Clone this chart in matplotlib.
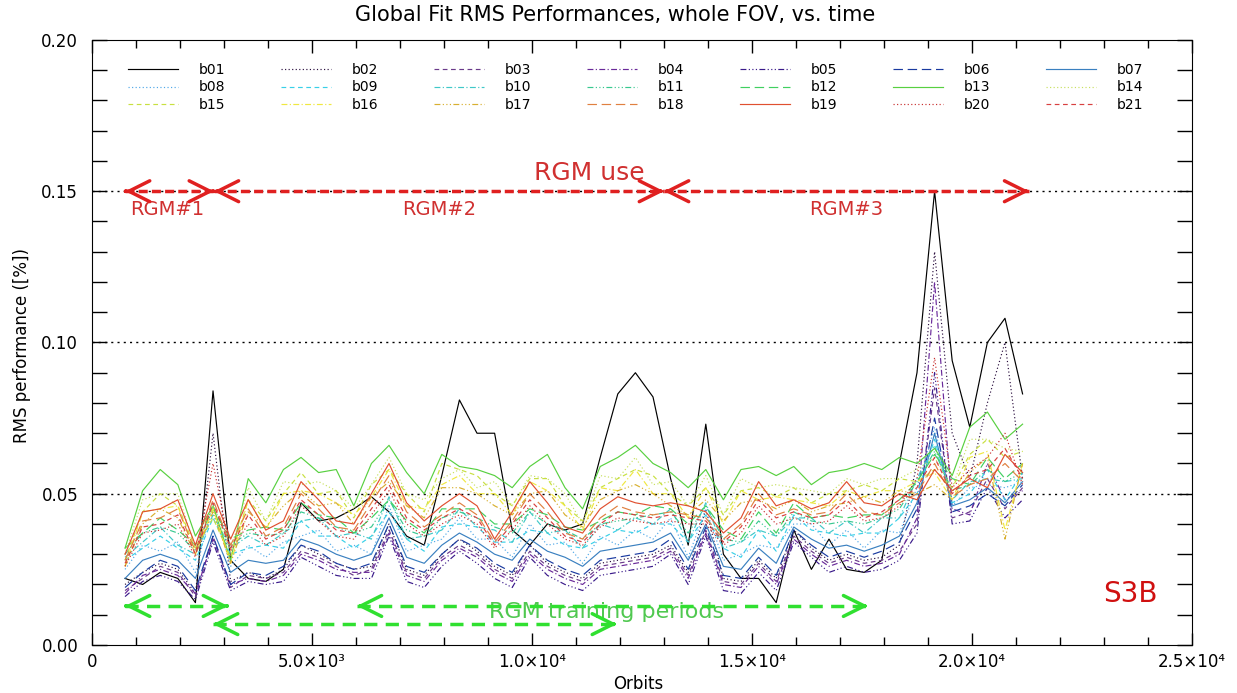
import matplotlib
matplotlib.use('Agg')
import matplotlib.pyplot as plt
from matplotlib.ticker import MultipleLocator

# orbit numbers of the samples
orbits = [750, 1150, 1550, 1950, 2350, 2750, 3150, 3550, 3950, 4350, 4750, 5150, 5550,
          5950, 6350, 6750, 7150, 7550, 7950, 8350, 8750, 9150, 9550, 9950, 10350,
          10750, 11150, 11550, 11950, 12350, 12750, 13150, 13550, 13950, 14350, 14750,
          15150, 15550, 15950, 16350, 16750, 17150, 17550, 17950, 18350, 18750, 19150,
          19550, 19950, 20350, 20750, 21150]

# RMS performance per band, in units of 1e-3 %
b01 = [22, 20, 24, 22, 14, 84, 28, 22, 21, 25, 47, 41, 42, 45, 49, 44, 36, 33, 56, 81, 70, 70, 38, 33, 40, 38,
       40, 62, 83, 90, 82, 55, 33, 73, 30, 22, 22, 14, 38, 25, 35, 25, 24, 28, 60, 90, 150, 94, 72, 100, 108, 83]
b02 = [20, 24, 27, 25, 17, 70, 21, 24, 22, 25, 33, 30, 27, 25, 26, 40, 25, 23, 30, 35, 31, 26, 23, 33, 27, 24,
       22, 27, 28, 29, 30, 33, 24, 45, 22, 21, 28, 22, 38, 32, 28, 30, 28, 29, 33, 60, 130, 70, 55, 80, 100, 55]
b03 = [18, 22, 26, 24, 16, 36, 19, 23, 22, 24, 31, 29, 26, 23, 25, 38, 24, 22, 29, 33, 30, 25, 22, 31, 26, 23,
       21, 26, 27, 28, 29, 32, 23, 38, 21, 20, 27, 21, 36, 31, 27, 29, 27, 28, 31, 40, 85, 42, 44, 55, 45, 52]
b04 = [17, 23, 25, 23, 17, 35, 20, 22, 21, 23, 30, 28, 25, 24, 24, 37, 23, 21, 28, 32, 29, 24, 21, 30, 25, 22,
       20, 25, 26, 27, 28, 31, 22, 37, 20, 19, 26, 20, 35, 30, 26, 28, 26, 27, 30, 42, 120, 45, 43, 60, 48, 51]
b05 = [16, 21, 23, 21, 15, 34, 18, 21, 20, 21, 29, 26, 23, 22, 22, 36, 21, 19, 26, 31, 27, 22, 19, 29, 23, 20,
       18, 23, 24, 25, 26, 30, 20, 36, 18, 17, 24, 18, 34, 29, 24, 26, 24, 25, 28, 37, 90, 40, 41, 52, 42, 48]
b06 = [19, 24, 28, 26, 18, 36, 20, 24, 23, 26, 33, 31, 27, 25, 27, 40, 26, 24, 30, 35, 32, 27, 24, 33, 28, 25,
       23, 28, 29, 30, 31, 35, 25, 39, 23, 22, 29, 23, 38, 33, 29, 31, 29, 31, 34, 45, 75, 44, 46, 50, 46, 53]
b07 = [22, 28, 30, 28, 22, 38, 24, 28, 27, 28, 35, 33, 30, 28, 30, 42, 29, 27, 33, 37, 34, 30, 28, 35, 31, 29,
       26, 31, 32, 33, 34, 37, 28, 40, 26, 25, 32, 27, 39, 35, 32, 33, 31, 33, 36, 47, 70, 46, 48, 52, 47, 54]
b08 = [25, 33, 31, 34, 24, 47, 26, 33, 29, 34, 36, 38, 31, 33, 30, 46, 31, 33, 35, 42, 35, 35, 29, 40, 33, 34,
       27, 36, 33, 38, 35, 42, 29, 45, 28, 30, 33, 32, 40, 40, 33, 38, 32, 38, 37, 52, 72, 46, 52, 53, 52, 54]
b09 = [28, 32, 36, 32, 28, 42, 30, 32, 33, 32, 41, 36, 36, 32, 36, 44, 35, 31, 39, 40, 39, 34, 34, 38, 37, 33,
       32, 35, 38, 37, 40, 40, 34, 43, 32, 29, 38, 31, 43, 38, 37, 36, 37, 37, 42, 50, 68, 47, 50, 58, 48, 57]
b10 = [29, 34, 39, 33, 30, 43, 32, 36, 33, 37, 41, 42, 36, 37, 35, 49, 35, 36, 38, 45, 39, 38, 34, 44, 37, 38,
       32, 40, 38, 42, 40, 45, 34, 47, 32, 34, 38, 36, 42, 42, 37, 41, 37, 42, 42, 55, 66, 48, 54, 55, 54, 55]
b11 = [30, 37, 39, 37, 31, 46, 33, 37, 36, 37, 44, 42, 39, 37, 39, 48, 38, 36, 42, 44, 42, 39, 37, 44, 40, 38,
       35, 40, 41, 42, 43, 44, 37, 46, 35, 34, 41, 36, 44, 41, 40, 41, 40, 42, 45, 54, 64, 51, 53, 58, 54, 57]
b12 = [32, 37, 42, 38, 33, 45, 35, 38, 39, 38, 47, 43, 42, 37, 42, 48, 41, 37, 45, 45, 45, 40, 40, 45, 43, 39,
       38, 41, 44, 43, 46, 45, 40, 46, 38, 35, 44, 37, 47, 42, 43, 42, 43, 43, 48, 54, 63, 55, 53, 62, 55, 60]
b13 = [32, 51, 58, 53, 36, 46, 28, 55, 47, 58, 62, 57, 58, 46, 60, 66, 57, 50, 63, 59, 58, 56, 52, 59, 63, 52,
       45, 59, 62, 66, 60, 57, 52, 58, 48, 58, 59, 56, 59, 53, 57, 58, 60, 58, 62, 60, 65, 56, 72, 77, 68, 73]
b14 = [30, 48, 50, 50, 32, 46, 31, 52, 41, 54, 53, 54, 51, 45, 53, 62, 50, 48, 55, 58, 52, 54, 46, 56, 55, 50,
       40, 56, 55, 62, 53, 54, 46, 56, 43, 55, 52, 53, 52, 51, 50, 55, 53, 55, 55, 58, 62, 52, 68, 68, 65, 64]
b15 = [28, 44, 50, 46, 32, 42, 29, 48, 41, 50, 57, 50, 51, 42, 53, 58, 50, 44, 60, 58, 56, 50, 46, 55, 55, 46,
       41, 52, 55, 58, 56, 50, 46, 52, 43, 51, 52, 49, 52, 47, 50, 51, 53, 51, 55, 54, 58, 52, 63, 68, 62, 64]
b16 = [26, 44, 45, 46, 30, 45, 27, 48, 38, 50, 51, 50, 47, 43, 49, 58, 46, 45, 53, 56, 50, 50, 43, 54, 51, 46,
       38, 52, 51, 58, 50, 50, 42, 52, 40, 51, 48, 49, 48, 47, 46, 51, 49, 51, 51, 54, 57, 48, 62, 64, 38, 60]
b17 = [26, 40, 45, 42, 30, 44, 27, 44, 39, 46, 51, 46, 47, 40, 49, 54, 46, 42, 52, 52, 50, 46, 43, 50, 51, 43,
       39, 48, 51, 53, 50, 46, 43, 48, 41, 47, 48, 45, 48, 44, 46, 47, 49, 47, 51, 50, 53, 48, 57, 62, 35, 60]
b18 = [28, 41, 42, 45, 31, 48, 33, 45, 36, 39, 50, 45, 39, 38, 47, 56, 44, 39, 43, 47, 43, 34, 41, 50, 44, 37,
       35, 42, 46, 44, 43, 44, 43, 42, 35, 40, 50, 43, 45, 43, 44, 50, 44, 43, 47, 50, 60, 49, 53, 55, 60, 54]
b19 = [30, 44, 45, 48, 33, 50, 35, 48, 38, 41, 54, 48, 41, 40, 50, 60, 47, 41, 46, 50, 46, 35, 44, 54, 47, 39,
       37, 45, 49, 47, 46, 47, 46, 44, 37, 42, 54, 46, 48, 45, 47, 54, 47, 46, 50, 48, 58, 51, 55, 52, 63, 57]
b20 = [26, 37, 38, 40, 29, 60, 31, 40, 33, 36, 46, 41, 36, 35, 43, 51, 40, 36, 40, 43, 40, 32, 38, 46, 40, 35,
       33, 39, 42, 41, 40, 41, 40, 40, 33, 37, 46, 40, 42, 40, 41, 46, 41, 42, 46, 55, 95, 52, 58, 62, 70, 53]
b21 = [27, 39, 40, 43, 30, 47, 32, 43, 35, 38, 48, 43, 38, 37, 45, 53, 42, 38, 42, 45, 42, 33, 40, 48, 42, 36,
       34, 40, 44, 43, 42, 43, 42, 41, 34, 39, 48, 42, 44, 42, 43, 48, 42, 44, 48, 52, 62, 50, 56, 58, 65, 55]

bands = [b01, b02, b03, b04, b05, b06, b07, b08, b09, b10, b11,
         b12, b13, b14, b15, b16, b17, b18, b19, b20, b21]
band_names = ['b%02d' % (i + 1) for i in range(21)]
band_colors = ['#000000', '#2c1040', '#6a3a8a', '#6a2a9a', '#3a1a8a', '#1a3aa0', '#3a80c0',
               '#50a8e8', '#38d0e8', '#40c8c8', '#38c890', '#40d060', '#58d040', '#c8e060',
               '#c8e040', '#f0e840', '#d8b030', '#e08040', '#e05030', '#c83030', '#d84040']
styles = ['-', (0, (1, 2)), (0, (4, 3)), (0, (5, 2, 1, 2)), (0, (5, 2, 1, 2, 1, 2, 1, 2)), (0, (8, 4))]

rgm_bounds = [750, 2770, 13000, 21300]
rgm_labels = [('RGM#1', 1700), ('RGM#2', 7900), ('RGM#3', 17150)]
training = [(750, 3090, 0.0129), (2750, 11930, 0.0069), (6020, 17640, 0.0129)]


def dashed_arrow(ax, x0, x1, y, color, dash):
    ax.plot([x0, x1], [y, y], color=color, lw=2.5, dashes=dash, solid_capstyle='butt', zorder=5)
    for tip, tail in ((x0, x1), (x1, x0)):
        ax.annotate('', xy=(tip, y), xytext=(tip + (tail - tip) * 0.01, y), zorder=5,
                    arrowprops=dict(arrowstyle='->, head_length=0.5, head_width=0.25', color=color,
                                    lw=2.5, mutation_scale=30, shrinkA=0, shrinkB=0))


fig = plt.figure(figsize=(12.37, 6.93), dpi=100)
ax = fig.add_axes([0.0744, 0.0693, 0.8892, 0.8730])

handles = []
for i, vals in enumerate(bands):
    ln, = ax.plot(orbits, [v * 1e-3 for v in vals], color=band_colors[i],
                  linestyle=styles[i % 6], lw=0.85, label=band_names[i])
    handles.append(ln)

for y in (0.05, 0.10, 0.15):
    ax.axhline(y, color='k', lw=1, dashes=(1.5, 3), zorder=1)

for a, b in zip(rgm_bounds[:-1], rgm_bounds[1:]):
    dashed_arrow(ax, a, b, 0.15, '#e02020', (2.6, 1.2))
for txt, xc in rgm_labels:
    ax.text(xc, 0.144, txt, color='#d03030', fontsize=14, ha='center', va='center')
ax.text(11300, 0.156, 'RGM use', color='#d03030', fontsize=18, ha='center', va='center')

for a, b, y in training:
    dashed_arrow(ax, a, b, y, '#30e030', (3.8, 2.4))
ax.text(11700, 0.0108, 'RGM training periods', color='#50c850', fontsize=16, ha='center', va='center')
ax.text(23600, 0.0168, 'S3B', color='#d01010', fontsize=20, ha='center', va='center')

# legend: 3 rows x 7 columns, row-wise order
order = [r * 7 + c for c in range(7) for r in range(3)]
ax.legend([handles[k] for k in order], [band_names[k] for k in order], ncol=7, loc='upper left',
          bbox_to_anchor=(0.0327, 0.962), frameon=False, fontsize=10, handlelength=3.6,
          handletextpad=1.5, columnspacing=4.0, labelspacing=0.25, borderpad=0, borderaxespad=0)

ax.set_xlim(0, 25000)
ax.set_ylim(0, 0.2)
ax.set_xticks([0, 5000, 10000, 15000, 20000, 25000])
ax.set_xticklabels(['0', '5.0×10³', '1.0×10⁴', '1.5×10⁴', '2.0×10⁴', '2.5×10⁴'])
ax.set_yticks([0, 0.05, 0.10, 0.15, 0.20])
ax.set_yticklabels(['0.00', '0.05', '0.10', '0.15', '0.20'])
ax.xaxis.set_minor_locator(MultipleLocator(1000))
ax.yaxis.set_minor_locator(MultipleLocator(0.01))
ax.tick_params(which='both', direction='in', top=True, right=True, labelsize=12, width=1)
ax.tick_params(axis='y', which='both', length=11, pad=10)
ax.tick_params(axis='x', which='major', length=9, pad=6)
ax.tick_params(axis='x', which='minor', length=6)

fig.text(0.497, 0.978, 'Global Fit RMS Performances, whole FOV, vs. time', ha='center', va='center', fontsize=15)
fig.text(0.516, 0.013, 'Orbits', ha='center', va='center', fontsize=12)
fig.text(0.018, 0.502, 'RMS performance ([%])', ha='center', va='center', rotation=90, fontsize=12)

plt.savefig('out.png', dpi=100)
